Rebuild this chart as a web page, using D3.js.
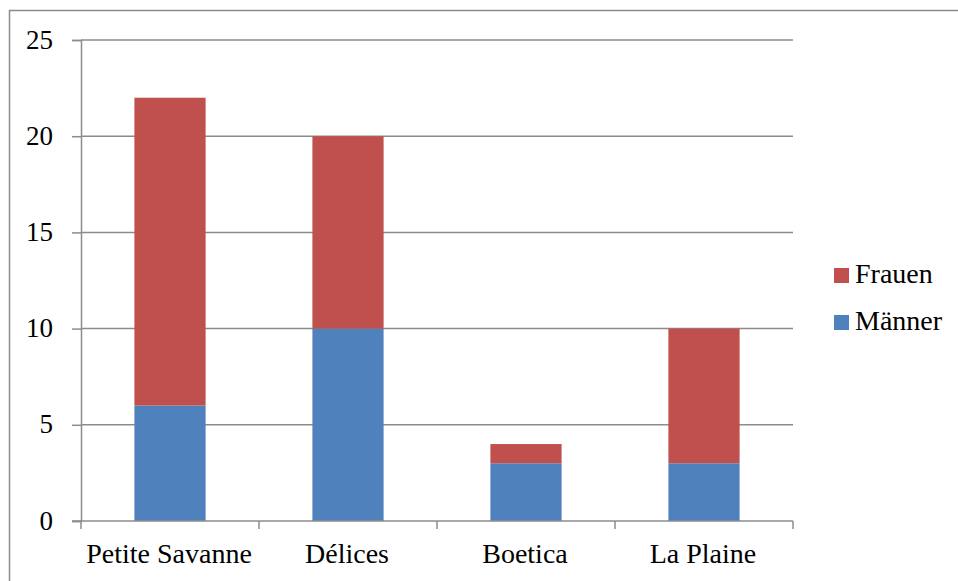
<!DOCTYPE html>
<html>
<head>
<meta charset="utf-8">
<script src="https://cdn.jsdelivr.net/npm/d3@7"></script>
<style>
  html, body { margin: 0; padding: 0; background: #fff; }
</style>
</head>
<body>
<svg id="chart" width="958" height="581"></svg>
<script>
const categories = ["Petite Savanne", "Délices", "Boetica", "La Plaine"];
const maenner = [6, 10, 3, 3];
const frauen = [16, 10, 1, 7];
const seriesNames = ["Männer", "Frauen"];
const seriesColors = ["#4F81BD", "#C0504D"];
const yTicks = [0, 5, 10, 15, 20, 25];

const FONT = "'Liberation Serif', 'Times New Roman', serif";
const FS = 28;
const FS_Y = 27;

const svg = d3.select("#chart");
const margin = { left: 81, top: 40, right: 165, bottom: 60 };
const width = 958, height = 581;

// outer frame
svg.append("rect")
  .attr("x", 9.5).attr("y", 10.5)
  .attr("width", 1000).attr("height", 1000)
  .attr("fill", "none").attr("stroke", "#8c8c8c").attr("stroke-width", 1.5);

const x = d3.scaleBand().domain(categories)
  .range([margin.left, width - margin.right]).paddingInner(0.6).paddingOuter(0.3);
const xAxisBand = d3.scaleBand().domain(categories)
  .range([margin.left, width - margin.right]);
const y = d3.scaleLinear().domain([0, 25]).range([height - margin.bottom, margin.top]);

const rows = categories.map((c, i) => ({ cat: c, "Männer": maenner[i], "Frauen": frauen[i] }));
const stacked = d3.stack().keys(seriesNames)(rows);

// gridlines
svg.append("g").selectAll("line").data(yTicks.filter(t => t > 0)).join("line")
  .attr("x1", margin.left).attr("x2", width - margin.right)
  .attr("y1", d => y(d)).attr("y2", d => y(d))
  .attr("stroke", "#8c8c8c").attr("stroke-width", 1.5);

// bars
svg.append("g").selectAll("g").data(stacked).join("g")
  .attr("fill", (d, i) => seriesColors[i])
  .selectAll("rect").data(d => d).join("rect")
  .attr("x", d => x(d.data.cat))
  .attr("width", x.bandwidth())
  .attr("y", d => y(d[1]))
  .attr("height", d => y(d[0]) - y(d[1]));

// y axis
const yAxis = svg.append("g").attr("transform", `translate(${margin.left},0)`)
  .call(d3.axisLeft(y).tickValues(yTicks).tickSize(9).tickPadding(19));
yAxis.select(".domain").attr("stroke", "#8c8c8c").attr("stroke-width", 1.5);
yAxis.selectAll(".tick line").attr("stroke", "#8c8c8c").attr("stroke-width", 1.5);
yAxis.attr("font-family", FONT).attr("font-size", FS_Y);
yAxis.selectAll("text").attr("fill", "#000").attr("dy", "0.3em");

// x axis with category boundary ticks
const xg = svg.append("g").attr("transform", `translate(0,${y(0)})`);
xg.append("line").attr("x1", margin.left - 9).attr("x2", width - margin.right)
  .attr("stroke", "#8c8c8c").attr("stroke-width", 1.5);
const bounds = categories.map(c => xAxisBand(c)).concat([width - margin.right]);
xg.selectAll("line.b").data(bounds).join("line").attr("class", "b")
  .attr("x1", d => d).attr("x2", d => d).attr("y1", 0).attr("y2", 8)
  .attr("stroke", "#8c8c8c").attr("stroke-width", 1.5);
xg.selectAll("text").data(categories).join("text")
  .attr("x", d => xAxisBand(d) + xAxisBand.bandwidth() / 2 - 1)
  .attr("y", 42).attr("text-anchor", "middle")
  .attr("font-family", FONT).attr("font-size", FS).attr("fill", "#000")
  .text(d => d);

// legend
const legendItems = [{ name: "Frauen", color: seriesColors[1] }, { name: "Männer", color: seriesColors[0] }];
const lg = svg.append("g").selectAll("g").data(legendItems).join("g")
  .attr("transform", (d, i) => `translate(834,${268 + i * 47})`);
lg.append("rect").attr("width", 15).attr("height", 15).attr("fill", d => d.color);
lg.append("text").attr("x", 21).attr("y", 15)
  .attr("font-family", FONT).attr("font-size", FS).attr("fill", "#000")
  .text(d => d.name);
</script>
</body>
</html>
